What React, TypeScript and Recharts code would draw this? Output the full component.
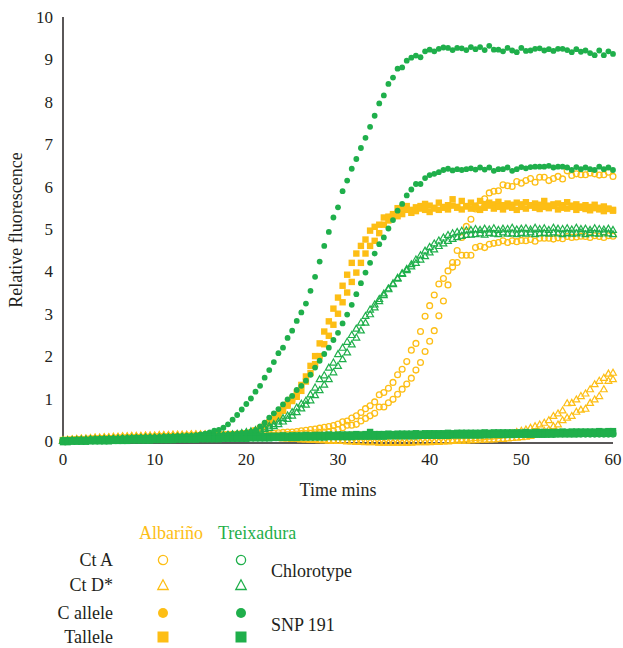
import { ScatterChart, Scatter, XAxis, YAxis } from 'recharts'

const YELLOW = '#FDBE15'
const GREEN = '#1FAF4B'
const INK = '#231F20'
const FONT = '"Liberation Serif", "DejaVu Serif", serif'

// time points (min)
const TIME = [
  0, 0.5, 1, 1.5, 2, 2.5, 3, 3.5, 4, 4.5,
  5, 5.5, 6, 6.5, 7, 7.5, 8, 8.5, 9, 9.5,
  10, 10.5, 11, 11.5, 12, 12.5, 13, 13.5, 14, 14.5,
  15, 15.5, 16, 16.5, 17, 17.5, 18, 18.5, 19, 19.5,
  20, 20.5, 21, 21.5, 22, 22.5, 23, 23.5, 24, 24.5,
  25, 25.5, 26, 26.5, 27, 27.5, 28, 28.5, 29, 29.5,
  30, 30.5, 31, 31.5, 32, 32.5, 33, 33.5, 34, 34.5,
  35, 35.5, 36, 36.5, 37, 37.5, 38, 38.5, 39, 39.5,
  40, 40.5, 41, 41.5, 42, 42.5, 43, 43.5, 44, 44.5,
  45, 45.5, 46, 46.5, 47, 47.5, 48, 48.5, 49, 49.5,
  50, 50.5, 51, 51.5, 52, 52.5, 53, 53.5, 54, 54.5,
  55, 55.5, 56, 56.5, 57, 57.5, 58, 58.5, 59, 59.5,
  60,
]

const X_TICKS = [0, 10, 20, 30, 40, 50, 60]
const Y_TICKS = [0, 1, 2, 3, 4, 5, 6, 7, 8, 9, 10]

// Albariño, Ct A (open circles), two replicates
const ALB_CTA_1 = [
  0.00, 0.00, 0.01, 0.01, 0.01, 0.02, 0.02, 0.02, 0.03, 0.03,
  0.03, 0.04, 0.04, 0.04, 0.05, 0.05, 0.05, 0.05, 0.06, 0.06,
  0.06, 0.06, 0.07, 0.07, 0.07, 0.07, 0.08, 0.08, 0.08, 0.08,
  0.09, 0.09, 0.09, 0.09, 0.10, 0.10, 0.10, 0.10, 0.11, 0.11,
  0.11, 0.11, 0.12, 0.12, 0.12, 0.13, 0.13, 0.14, 0.14, 0.15,
  0.15, 0.16, 0.17, 0.17, 0.18, 0.19, 0.20, 0.21, 0.22, 0.24,
  0.27, 0.31, 0.37, 0.37, 0.39, 0.47, 0.53, 0.59, 0.65, 0.80,
  0.80, 0.90, 0.98, 1.10, 1.22, 1.34, 1.48, 1.67, 1.85, 2.11,
  2.35, 2.60, 2.95, 3.30, 3.68, 4.10, 4.49, 4.80, 5.06, 5.23,
  5.47, 5.60, 5.71, 5.85, 5.89, 5.90, 6.04, 6.02, 6.00, 6.12,
  6.08, 6.14, 6.19, 6.10, 6.22, 6.22, 6.14, 6.19, 6.24, 6.18,
  6.37, 6.26, 6.30, 6.28, 6.28, 6.32, 6.30, 6.27, 6.28, 6.34,
  6.24,
]
const ALB_CTA_2 = [
  0.00, 0.01, 0.01, 0.01, 0.02, 0.02, 0.02, 0.03, 0.03, 0.03,
  0.04, 0.04, 0.04, 0.05, 0.05, 0.05, 0.06, 0.06, 0.06, 0.06,
  0.07, 0.07, 0.07, 0.08, 0.08, 0.08, 0.08, 0.09, 0.09, 0.09,
  0.10, 0.10, 0.10, 0.11, 0.11, 0.11, 0.12, 0.12, 0.13, 0.13,
  0.14, 0.14, 0.15, 0.16, 0.16, 0.17, 0.18, 0.19, 0.20, 0.21,
  0.21, 0.22, 0.24, 0.25, 0.27, 0.28, 0.30, 0.32, 0.34, 0.36,
  0.40, 0.45, 0.47, 0.54, 0.59, 0.67, 0.76, 0.83, 0.92, 1.09,
  1.14, 1.24, 1.38, 1.56, 1.69, 1.87, 2.14, 2.30, 2.58, 2.94,
  3.19, 3.44, 3.70, 3.83, 4.01, 4.21, 4.21, 4.38, 4.38, 4.38,
  4.56, 4.59, 4.56, 4.64, 4.66, 4.68, 4.72, 4.68, 4.72, 4.70,
  4.73, 4.72, 4.75, 4.71, 4.78, 4.78, 4.78, 4.76, 4.79, 4.77,
  4.82, 4.80, 4.81, 4.83, 4.82, 4.80, 4.84, 4.82, 4.80, 4.84,
  4.83,
]

// Albariño, Ct D* (open triangles), two replicates
const ALB_CTD_1 = [
  0.02, 0.03, 0.04, 0.05, 0.06, 0.06, 0.07, 0.08, 0.08, 0.09,
  0.09, 0.10, 0.10, 0.11, 0.11, 0.12, 0.12, 0.12, 0.13, 0.13,
  0.13, 0.14, 0.14, 0.14, 0.15, 0.15, 0.15, 0.15, 0.16, 0.16,
  0.16, 0.16, 0.15, 0.15, 0.14, 0.14, 0.13, 0.13, 0.12, 0.12,
  0.11, 0.11, 0.10, 0.10, 0.09, 0.09, 0.08, 0.08, 0.07, 0.07,
  0.06, 0.06, 0.05, 0.05, 0.04, 0.04, 0.03, 0.03, 0.02, 0.02,
  0.01, 0.01, 0.00, 0.00, -0.01, -0.01, -0.02, -0.02, -0.02, -0.03,
  -0.03, -0.03, -0.03, -0.03, -0.03, -0.03, -0.03, -0.02, -0.02, -0.02,
  -0.01, -0.01, 0.00, 0.00, 0.01, 0.02, 0.03, 0.04, 0.05, 0.06,
  0.07, 0.08, 0.09, 0.10, 0.11, 0.12, 0.14, 0.16, 0.18, 0.21,
  0.24, 0.27, 0.31, 0.35, 0.39, 0.43, 0.49, 0.59, 0.65, 0.72,
  0.89, 0.90, 0.98, 1.06, 1.12, 1.22, 1.34, 1.42, 1.49, 1.59,
  1.61,
]
const ALB_CTD_2 = [
  0.01, 0.02, 0.03, 0.04, 0.05, 0.05, 0.06, 0.07, 0.07, 0.08,
  0.08, 0.09, 0.09, 0.10, 0.10, 0.11, 0.11, 0.11, 0.12, 0.12,
  0.12, 0.13, 0.13, 0.13, 0.14, 0.14, 0.14, 0.14, 0.15, 0.15,
  0.15, 0.15, 0.14, 0.14, 0.13, 0.13, 0.12, 0.12, 0.11, 0.11,
  0.10, 0.10, 0.09, 0.09, 0.08, 0.08, 0.07, 0.07, 0.06, 0.06,
  0.05, 0.05, 0.04, 0.04, 0.03, 0.03, 0.02, 0.02, 0.01, 0.01,
  0.00, 0.00, -0.01, -0.01, -0.02, -0.02, -0.03, -0.03, -0.03, -0.04,
  -0.04, -0.04, -0.04, -0.04, -0.04, -0.04, -0.04, -0.03, -0.03, -0.03,
  -0.03, -0.02, -0.02, -0.01, -0.01, 0.00, 0.00, 0.01, 0.01, 0.02,
  0.02, 0.03, 0.03, 0.04, 0.04, 0.05, 0.05, 0.06, 0.07, 0.08,
  0.09, 0.10, 0.12, 0.16, 0.20, 0.24, 0.27, 0.35, 0.39, 0.49,
  0.55, 0.59, 0.69, 0.74, 0.76, 0.90, 0.98, 1.06, 1.22, 1.42,
  1.46,
]

// Albariño, C allele (filled circles)
const ALB_C = [
  0.01, 0.01, 0.02, 0.02, 0.02, 0.03, 0.03, 0.03, 0.04, 0.04,
  0.04, 0.05, 0.05, 0.05, 0.06, 0.06, 0.06, 0.06, 0.07, 0.07,
  0.07, 0.07, 0.08, 0.08, 0.08, 0.08, 0.09, 0.09, 0.09, 0.09,
  0.09, 0.10, 0.10, 0.10, 0.10, 0.10, 0.11, 0.11, 0.11, 0.11,
  0.11, 0.11, 0.12, 0.12, 0.12, 0.12, 0.12, 0.12, 0.13, 0.13,
  0.13, 0.13, 0.13, 0.13, 0.13, 0.14, 0.14, 0.14, 0.14, 0.14,
  0.14, 0.14, 0.14, 0.15, 0.15, 0.15, 0.15, 0.15, 0.15, 0.15,
  0.15, 0.15, 0.16, 0.16, 0.16, 0.16, 0.16, 0.16, 0.16, 0.16,
  0.16, 0.16, 0.16, 0.17, 0.17, 0.17, 0.17, 0.17, 0.17, 0.17,
  0.17, 0.17, 0.17, 0.17, 0.17, 0.18, 0.18, 0.18, 0.18, 0.18,
  0.18, 0.18, 0.18, 0.18, 0.18, 0.18, 0.18, 0.18, 0.19, 0.19,
  0.19, 0.19, 0.19, 0.19, 0.19, 0.19, 0.19, 0.19, 0.19, 0.19,
  0.19,
]

// Albariño, T allele (filled squares), two replicates
const ALB_T_1 = [
  0.02, 0.02, 0.03, 0.03, 0.04, 0.04, 0.05, 0.05, 0.05, 0.06,
  0.06, 0.06, 0.07, 0.07, 0.07, 0.08, 0.08, 0.08, 0.09, 0.09,
  0.09, 0.10, 0.10, 0.10, 0.11, 0.11, 0.11, 0.12, 0.12, 0.12,
  0.13, 0.13, 0.13, 0.14, 0.14, 0.15, 0.15, 0.16, 0.16, 0.17,
  0.18, 0.20, 0.25, 0.30, 0.36, 0.44, 0.53, 0.63, 0.75, 0.87,
  1.00, 1.14, 1.32, 1.52, 1.77, 2.00, 2.30, 2.58, 2.82, 3.12,
  3.38, 3.66, 3.92, 4.20, 4.42, 4.60, 4.75, 4.96, 5.05, 5.10,
  5.27, 5.29, 5.31, 5.49, 5.50, 5.54, 5.45, 5.51, 5.54, 5.59,
  5.55, 5.50, 5.62, 5.50, 5.56, 5.70, 5.52, 5.66, 5.54, 5.62,
  5.55, 5.66, 5.57, 5.62, 5.58, 5.64, 5.56, 5.60, 5.57, 5.62,
  5.58, 5.63, 5.55, 5.60, 5.57, 5.66, 5.55, 5.58, 5.60, 5.56,
  5.63, 5.55, 5.58, 5.53, 5.56, 5.52, 5.57, 5.50, 5.53, 5.48,
  5.45,
]
const ALB_T_2 = [
  0.01, 0.02, 0.02, 0.03, 0.03, 0.04, 0.04, 0.04, 0.05, 0.05,
  0.05, 0.06, 0.06, 0.06, 0.07, 0.07, 0.07, 0.08, 0.08, 0.08,
  0.09, 0.09, 0.09, 0.10, 0.10, 0.10, 0.11, 0.11, 0.11, 0.12,
  0.12, 0.12, 0.13, 0.13, 0.13, 0.14, 0.14, 0.15, 0.15, 0.16,
  0.17, 0.19, 0.23, 0.28, 0.33, 0.41, 0.50, 0.59, 0.71, 0.83,
  0.94, 1.04, 1.18, 1.40, 1.60, 1.81, 2.00, 2.28, 2.48, 2.74,
  3.00, 3.27, 3.50, 3.75, 3.97, 4.20, 4.42, 4.60, 4.72, 4.90,
  5.10, 5.20, 5.35, 5.30, 5.35, 5.45, 5.38, 5.42, 5.48, 5.45,
  5.40, 5.48, 5.45, 5.52, 5.46, 5.55, 5.50, 5.46, 5.53, 5.48,
  5.50, 5.45, 5.50, 5.55, 5.48, 5.52, 5.46, 5.53, 5.50, 5.45,
  5.52, 5.48, 5.56, 5.50, 5.47, 5.52, 5.49, 5.54, 5.46, 5.50,
  5.48, 5.52, 5.45, 5.50, 5.47, 5.44, 5.49, 5.46, 5.42, 5.47,
  5.43,
]

// Treixadura, Ct A (open circles)
const TRX_CTA = [
  0.00, 0.00, 0.01, 0.01, 0.01, 0.01, 0.02, 0.02, 0.02, 0.02,
  0.03, 0.03, 0.03, 0.03, 0.04, 0.04, 0.04, 0.04, 0.05, 0.05,
  0.05, 0.05, 0.05, 0.06, 0.06, 0.06, 0.06, 0.06, 0.07, 0.07,
  0.07, 0.07, 0.07, 0.07, 0.08, 0.08, 0.08, 0.08, 0.08, 0.08,
  0.09, 0.09, 0.09, 0.09, 0.09, 0.09, 0.10, 0.10, 0.10, 0.10,
  0.10, 0.10, 0.10, 0.10, 0.11, 0.11, 0.11, 0.11, 0.11, 0.11,
  0.11, 0.11, 0.12, 0.12, 0.12, 0.12, 0.12, 0.12, 0.12, 0.12,
  0.12, 0.13, 0.13, 0.13, 0.13, 0.13, 0.13, 0.13, 0.13, 0.13,
  0.13, 0.13, 0.14, 0.14, 0.14, 0.14, 0.14, 0.14, 0.14, 0.14,
  0.14, 0.14, 0.14, 0.14, 0.15, 0.15, 0.15, 0.15, 0.15, 0.15,
  0.15, 0.15, 0.15, 0.15, 0.15, 0.15, 0.15, 0.15, 0.16, 0.16,
  0.16, 0.16, 0.16, 0.16, 0.16, 0.16, 0.16, 0.16, 0.16, 0.16,
  0.16,
]

// Treixadura, Ct D* (open triangles), two replicates
const TRX_CTD_1 = [
  0.01, 0.01, 0.02, 0.02, 0.03, 0.03, 0.04, 0.04, 0.04, 0.05,
  0.05, 0.05, 0.06, 0.06, 0.06, 0.07, 0.07, 0.07, 0.08, 0.08,
  0.08, 0.08, 0.09, 0.09, 0.09, 0.10, 0.10, 0.10, 0.10, 0.11,
  0.11, 0.11, 0.12, 0.12, 0.13, 0.14, 0.15, 0.16, 0.17, 0.19,
  0.21, 0.23, 0.26, 0.29, 0.32, 0.36, 0.40, 0.46, 0.54, 0.60,
  0.68, 0.79, 0.88, 0.95, 1.10, 1.26, 1.46, 1.55, 1.73, 1.85,
  2.05, 2.20, 2.34, 2.50, 2.65, 2.79, 2.95, 3.10, 3.22, 3.35,
  3.48, 3.60, 3.72, 3.85, 3.96, 4.06, 4.17, 4.28, 4.38, 4.49,
  4.58, 4.66, 4.73, 4.80, 4.86, 4.90, 4.93, 4.96, 4.97, 4.98,
  5.00, 4.98, 5.01, 4.99, 5.02, 4.98, 5.01, 5.00, 5.03, 4.99,
  5.01, 5.02, 4.99, 5.03, 5.00, 5.02, 4.98, 5.03, 5.01, 5.00,
  5.02, 4.99, 5.03, 5.00, 5.01, 4.98, 5.02, 5.00, 4.99, 5.01,
  4.98,
]
const TRX_CTD_2 = [
  0.00, 0.01, 0.01, 0.02, 0.02, 0.03, 0.03, 0.03, 0.04, 0.04,
  0.04, 0.05, 0.05, 0.05, 0.06, 0.06, 0.06, 0.07, 0.07, 0.07,
  0.07, 0.08, 0.08, 0.08, 0.09, 0.09, 0.09, 0.09, 0.10, 0.10,
  0.10, 0.11, 0.11, 0.12, 0.12, 0.13, 0.13, 0.14, 0.15, 0.16,
  0.18, 0.20, 0.22, 0.25, 0.28, 0.31, 0.35, 0.40, 0.46, 0.52,
  0.60, 0.68, 0.77, 0.86, 0.96, 1.08, 1.20, 1.33, 1.46, 1.62,
  1.77, 1.93, 2.09, 2.28, 2.44, 2.61, 2.79, 2.99, 3.15, 3.30,
  3.44, 3.58, 3.70, 3.83, 3.94, 4.03, 4.12, 4.20, 4.28, 4.36,
  4.45, 4.52, 4.60, 4.66, 4.72, 4.77, 4.81, 4.84, 4.86, 4.87,
  4.88, 4.90, 4.87, 4.91, 4.89, 4.88, 4.92, 4.89, 4.90, 4.88,
  4.91, 4.89, 4.92, 4.88, 4.90, 4.91, 4.89, 4.92, 4.90, 4.88,
  4.91, 4.89, 4.90, 4.92, 4.88, 4.91, 4.90, 4.89, 4.92, 4.90,
  4.88,
]

// Treixadura, C allele (filled circles), two replicates
const TRX_C_1 = [
  0.00, 0.01, 0.01, 0.02, 0.02, 0.03, 0.03, 0.04, 0.04, 0.05,
  0.05, 0.06, 0.06, 0.07, 0.07, 0.07, 0.08, 0.08, 0.08, 0.09,
  0.09, 0.09, 0.10, 0.10, 0.10, 0.11, 0.11, 0.12, 0.12, 0.13,
  0.15, 0.17, 0.20, 0.24, 0.26, 0.31, 0.39, 0.50, 0.61, 0.74,
  0.87, 1.00, 1.16, 1.30, 1.49, 1.67, 1.86, 2.07, 2.20, 2.43,
  2.60, 2.83, 3.03, 3.24, 3.54, 3.87, 4.23, 4.60, 4.93, 5.27,
  5.51, 5.89, 6.14, 6.42, 6.65, 6.91, 7.15, 7.41, 7.67, 7.96,
  8.15, 8.42, 8.57, 8.78, 8.81, 8.97, 9.04, 9.09, 9.05, 9.19,
  9.23, 9.19, 9.25, 9.28, 9.27, 9.22, 9.27, 9.26, 9.22, 9.29,
  9.24, 9.29, 9.22, 9.32, 9.23, 9.23, 9.19, 9.27, 9.21, 9.17,
  9.27, 9.20, 9.21, 9.25, 9.26, 9.21, 9.24, 9.20, 9.25, 9.25,
  9.22, 9.17, 9.24, 9.18, 9.21, 9.15, 9.10, 9.21, 9.10, 9.19,
  9.13,
]
const TRX_C_2 = [
  0.00, 0.01, 0.01, 0.02, 0.02, 0.03, 0.03, 0.03, 0.04, 0.04,
  0.05, 0.05, 0.05, 0.06, 0.06, 0.07, 0.07, 0.07, 0.08, 0.08,
  0.08, 0.09, 0.09, 0.09, 0.10, 0.10, 0.10, 0.11, 0.11, 0.11,
  0.12, 0.12, 0.13, 0.13, 0.14, 0.14, 0.15, 0.16, 0.17, 0.18,
  0.19, 0.21, 0.24, 0.34, 0.43, 0.55, 0.65, 0.75, 0.86, 0.98,
  1.06, 1.20, 1.30, 1.42, 1.56, 1.73, 1.89, 2.05, 2.20, 2.38,
  2.55, 2.77, 2.98, 3.21, 3.46, 3.72, 3.97, 4.20, 4.42, 4.64,
  4.80, 5.01, 5.21, 5.43, 5.59, 5.79, 5.93, 6.06, 6.06, 6.20,
  6.27, 6.30, 6.34, 6.39, 6.42, 6.38, 6.41, 6.39, 6.41, 6.43,
  6.40, 6.45, 6.40, 6.45, 6.37, 6.41, 6.41, 6.45, 6.37, 6.41,
  6.46, 6.43, 6.46, 6.47, 6.47, 6.47, 6.49, 6.45, 6.47, 6.47,
  6.45, 6.39, 6.46, 6.41, 6.45, 6.41, 6.39, 6.47, 6.41, 6.45,
  6.39,
]

// Treixadura, T allele (filled squares), two replicates
const TRX_T_1 = [
  0.01, 0.01, 0.01, 0.02, 0.02, 0.02, 0.02, 0.03, 0.03, 0.03,
  0.03, 0.04, 0.04, 0.04, 0.04, 0.05, 0.05, 0.05, 0.05, 0.06,
  0.06, 0.06, 0.06, 0.07, 0.07, 0.07, 0.07, 0.08, 0.08, 0.08,
  0.08, 0.09, 0.09, 0.09, 0.09, 0.10, 0.10, 0.10, 0.10, 0.11,
  0.11, 0.11, 0.11, 0.12, 0.11, 0.12, 0.12, 0.12, 0.13, 0.12,
  0.13, 0.13, 0.13, 0.14, 0.13, 0.14, 0.14, 0.14, 0.15, 0.14,
  0.15, 0.15, 0.15, 0.15, 0.16, 0.15, 0.16, 0.21, 0.16, 0.16,
  0.16, 0.17, 0.16, 0.17, 0.17, 0.17, 0.17, 0.18, 0.17, 0.18,
  0.18, 0.18, 0.18, 0.18, 0.19, 0.18, 0.19, 0.19, 0.19, 0.19,
  0.19, 0.19, 0.20, 0.19, 0.20, 0.20, 0.20, 0.20, 0.20, 0.20,
  0.20, 0.21, 0.20, 0.21, 0.21, 0.21, 0.21, 0.21, 0.21, 0.22,
  0.21, 0.22, 0.22, 0.22, 0.22, 0.22, 0.22, 0.23, 0.22, 0.23,
  0.23,
]
const TRX_T_2 = [
  -0.03, -0.03, -0.02, -0.02, -0.02, -0.02, -0.01, -0.01, -0.01, -0.01,
  -0.01, 0.00, 0.00, 0.00, 0.00, 0.01, 0.01, 0.01, 0.01, 0.01,
  0.02, 0.02, 0.02, 0.02, 0.02, 0.03, 0.03, 0.03, 0.03, 0.03,
  0.04, 0.04, 0.04, 0.04, 0.04, 0.05, 0.05, 0.05, 0.05, 0.05,
  0.05, 0.06, 0.06, 0.06, 0.06, 0.06, 0.07, 0.07, 0.07, 0.07,
  0.07, 0.07, 0.08, 0.08, 0.08, 0.08, 0.08, 0.08, 0.09, 0.09,
  0.09, 0.09, 0.09, 0.09, 0.10, 0.10, 0.10, 0.10, 0.10, 0.10,
  0.10, 0.11, 0.11, 0.11, 0.11, 0.11, 0.11, 0.11, 0.12, 0.12,
  0.12, 0.12, 0.12, 0.12, 0.12, 0.13, 0.13, 0.13, 0.13, 0.13,
  0.13, 0.13, 0.14, 0.14, 0.14, 0.14, 0.14, 0.14, 0.14, 0.15,
  0.15, 0.15, 0.15, 0.15, 0.15, 0.15, 0.16, 0.16, 0.16, 0.16,
  0.16, 0.16, 0.16, 0.17, 0.17, 0.17, 0.17, 0.17, 0.17, 0.17,
  0.18,
]

type Kind = 'ring' | 'triangle' | 'dot' | 'square'

const toPoints = (vals: number[]) => TIME.map((t, i) => ({ t, v: vals[i] }))

function Marker({ cx, cy, kind, color }: { cx: number; cy: number; kind: Kind; color: string }) {
  if (cx == null || cy == null) return null
  if (kind === 'ring') {
    return <circle cx={cx} cy={cy} r={2.9} fill="none" stroke={color} strokeWidth={1.3} />
  }
  if (kind === 'triangle') {
    const pts = `${cx},${cy - 3.4} ${cx - 3.4},${cy + 2.6} ${cx + 3.4},${cy + 2.6}`
    return <polygon points={pts} fill="none" stroke={color} strokeWidth={1.2} />
  }
  if (kind === 'square') {
    return <rect x={cx - 3.2} y={cy - 3.2} width={6.4} height={6.4} fill={color} />
  }
  return <circle cx={cx} cy={cy} r={2.9} fill={color} />
}

const SERIES: { name: string; vals: number[]; kind: Kind; color: string }[] = [
  { name: 'alb-cta-1', vals: ALB_CTA_1, kind: 'ring', color: YELLOW },
  { name: 'alb-cta-2', vals: ALB_CTA_2, kind: 'ring', color: YELLOW },
  { name: 'alb-ctd-1', vals: ALB_CTD_1, kind: 'triangle', color: YELLOW },
  { name: 'alb-ctd-2', vals: ALB_CTD_2, kind: 'triangle', color: YELLOW },
  { name: 'alb-c', vals: ALB_C, kind: 'dot', color: YELLOW },
  { name: 'alb-t-1', vals: ALB_T_1, kind: 'square', color: YELLOW },
  { name: 'alb-t-2', vals: ALB_T_2, kind: 'square', color: YELLOW },
  { name: 'trx-cta', vals: TRX_CTA, kind: 'ring', color: GREEN },
  { name: 'trx-ctd-1', vals: TRX_CTD_1, kind: 'triangle', color: GREEN },
  { name: 'trx-ctd-2', vals: TRX_CTD_2, kind: 'triangle', color: GREEN },
  { name: 'trx-c-1', vals: TRX_C_1, kind: 'dot', color: GREEN },
  { name: 'trx-c-2', vals: TRX_C_2, kind: 'dot', color: GREEN },
  { name: 'trx-t-1', vals: TRX_T_1, kind: 'square', color: GREEN },
  { name: 'trx-t-2', vals: TRX_T_2, kind: 'square', color: GREEN },
]

function LegendMark({ kind, color }: { kind: Kind; color: string }) {
  return (
    <svg width={14} height={14} style={{ display: 'block' }}>
      {kind === 'ring' && <circle cx={7} cy={7} r={4.6} fill="none" stroke={color} strokeWidth={1.3} />}
      {kind === 'triangle' && (
        <polygon points="7,1.8 1.8,11.5 12.2,11.5" fill="none" stroke={color} strokeWidth={1.3} />
      )}
      {kind === 'dot' && <circle cx={7} cy={7} r={5} fill={color} />}
      {kind === 'square' && <rect x={1.5} y={1.5} width={11} height={11} fill={color} />}
    </svg>
  )
}

const LEGEND_ROWS: { label: string; kind: Kind; y: number }[] = [
  { label: 'Ct A', kind: 'ring', y: 560 },
  { label: 'Ct D*', kind: 'triangle', y: 585 },
  { label: 'C allele', kind: 'dot', y: 613 },
  { label: 'Tallele', kind: 'square', y: 637 },
]

const textAt = (x: number, y: number, extra: React.CSSProperties = {}): React.CSSProperties => ({
  position: 'absolute',
  left: x,
  top: y - 12,
  height: 24,
  lineHeight: '24px',
  fontSize: 18,
  whiteSpace: 'nowrap',
  ...extra,
})

export default function App() {
  return (
    <div style={{ position: 'relative', width: 623, height: 648, fontFamily: FONT, color: INK, background: '#fff' }}>
      <style>{'body{margin:0}'}</style>
      <ScatterChart width={623} height={500} margin={{ top: 17, right: 10, bottom: 0, left: 0 }}>
        <XAxis
          type="number"
          dataKey="t"
          domain={[0, 60]}
          ticks={X_TICKS}
          tickLine={false}
          tickMargin={4}
          height={57}
          axisLine={{ stroke: INK, strokeWidth: 1.5 }}
          tick={{ fill: INK, fontSize: 17, fontFamily: FONT }}
        />
        <YAxis
          type="number"
          dataKey="v"
          domain={[-0.05, 10]}
          ticks={Y_TICKS}
          tickLine={false}
          tickMargin={4}
          width={63}
          axisLine={{ stroke: INK, strokeWidth: 1.5 }}
          tick={{ fill: INK, fontSize: 17, fontFamily: FONT }}
        />
        {SERIES.map((s) => (
          <Scatter
            key={s.name}
            data={toPoints(s.vals)}
            isAnimationActive={false}
            shape={(p: any) => <Marker cx={p.cx} cy={p.cy} kind={s.kind} color={s.color} />}
          />
        ))}
      </ScatterChart>

      {/* axis titles */}
      <div style={textAt(0, 490, { width: 676, textAlign: 'center', left: 0 })}>Time mins</div>
      <div
        style={{
          position: 'absolute',
          left: 16,
          top: 230,
          fontSize: 18,
          whiteSpace: 'nowrap',
          transform: 'translate(-50%, -50%) rotate(-90deg)',
        }}
      >
        Relative fluorescence
      </div>

      {/* legend */}
      <div style={textAt(139, 533, { color: YELLOW })}>Albariño</div>
      <div style={textAt(218, 533, { color: GREEN })}>Treixadura</div>
      {LEGEND_ROWS.map((r) => (
        <div key={r.label}>
          <div style={textAt(0, r.y, { width: 113, textAlign: 'right' })}>{r.label}</div>
          <div style={{ position: 'absolute', left: 156, top: r.y - 7 }}>
            <LegendMark kind={r.kind} color={YELLOW} />
          </div>
          <div style={{ position: 'absolute', left: 234, top: r.y - 7 }}>
            <LegendMark kind={r.kind} color={GREEN} />
          </div>
        </div>
      ))}
      <div style={textAt(271, 571)}>Chlorotype</div>
      <div style={textAt(271, 625)}>SNP 191</div>
    </div>
  )
}
